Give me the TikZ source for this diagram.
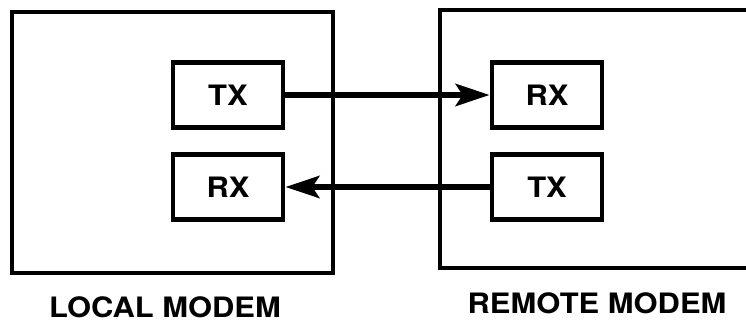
\documentclass[tikz,border=0pt]{standalone}
\usepackage{fontspec}
\setmainfont{TeX Gyre Heros}
\usetikzlibrary{arrows.meta}
\newcommand{\widetext}[1]{\scalebox{1.1}[1]{\bfseries #1}}
\tikzset{
    unit/.style={draw, line width=2.6pt, minimum width=2.2cm, minimum height=1.3cm, inner sep=0pt, font=\fontsize{16}{19}\selectfont},
    link/.style={line width=3.4pt, -{Stealth[length=0.68cm, width=0.44cm, inset=0.14cm]}},
    caption/.style={font=\fontsize{16}{19}\selectfont, inner sep=0pt}
}

\begin{document}
\begin{tikzpicture}[x=0.02cm, y=-0.02cm]
    \useasboundingbox (0, 0) rectangle (746, 327);
    %the modems
    \draw[line width=2pt] (12, 12) rectangle (333, 273);
    \draw[line width=2pt] (440, 10) rectangle (780, 268);
    %the units
    \node[unit] (ltx) at (228, 95) {\widetext{TX}};
    \node[unit] (lrx) at (228, 187) {\widetext{RX}};
    \node[unit] (rrx) at (547, 95) {\widetext{RX}};
    \node[unit] (rtx) at (547, 187) {\widetext{TX}};
    %the links
    \draw[link] (ltx) -- (rrx);
    \draw[link] (rtx) -- (lrx);
    %legends
    \node[caption] (lname) at (165, 307) {\widetext{LOCAL MODEM}};
    \node[caption] (rname) at (597, 303) {\widetext{REMOTE MODEM}};
\end{tikzpicture}
\end{document}
